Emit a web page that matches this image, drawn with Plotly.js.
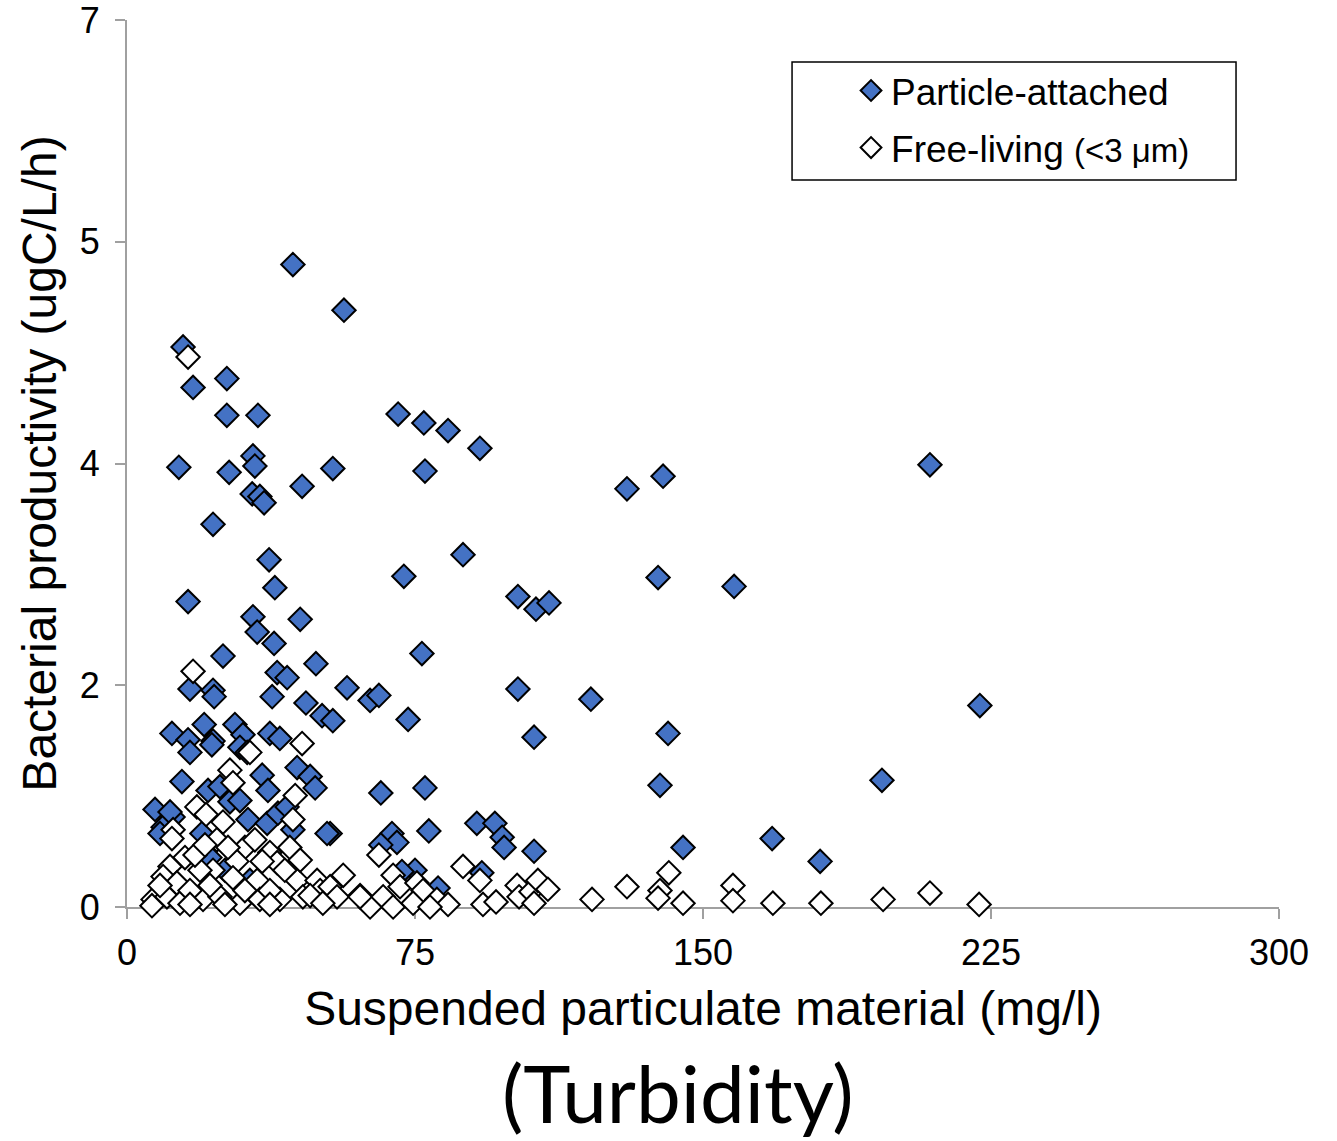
<!DOCTYPE html>
<html>
<head>
<meta charset="utf-8">
<script src="https://cdn.plot.ly/plotly-3.0.1.min.js"></script>
<style>html,body{margin:0;padding:0;background:#fff;}#chart{width:1337px;height:1141px;}</style>
</head>
<body>
<div id="chart"></div>
<script>
// Particle-attached bacterial productivity
var attachedX = [43.2,56.5,14.6,26.0,17.2,26.0,34.1,70.6,77.3,83.6,91.9,13.5,32.8,33.3,26.6,53.6,77.6,45.6,32.6,34.6,35.7,22.4,37.0,87.5,72.1,38.5,15.9,32.8,45.1,33.9,38.3,25.0,49.2,39.1,41.7,16.4,22.4,22.7,57.3,37.8,46.6,50.8,53.6,63.3,65.6,73.2,76.8,11.7,20.1,15.9,28.1,30.2,22.4,37.2,39.8,101.8,106.5,109.9,101.8,120.8,106.0,130.2,139.6,138.3,158.1,140.9,209.1,222.1,138.8,196.6,144.8,168.0,180.5,77.6,78.6,66.1,52.9,69.0,70.3,66.1,75.0,71.6,81.0,60.7,91.1,95.8,97.7,98.2,106.0,92.4,16.4,22.1,29.4,31.3,14.3,21.1,7.3,12.0,9.4,8.6,26.8,35.2,36.7,44.3,47.7,49.0,31.5,36.5,39.3,41.7,43.2,52.1,19.5,21.6,11.2,24.2,29.4,13.8,32.0,25.5];
var attachedY = [5.07,4.71,4.42,4.17,4.10,3.88,3.88,3.89,3.82,3.76,3.62,3.47,3.56,3.48,3.43,3.46,3.44,3.32,3.26,3.24,3.19,3.02,2.74,2.78,2.61,2.52,2.41,2.29,2.27,2.17,2.08,1.98,1.92,1.85,1.81,1.72,1.71,1.66,1.73,1.66,1.61,1.51,1.47,1.63,1.67,1.48,2.00,1.37,1.44,1.32,1.44,1.36,1.31,1.37,1.33,2.45,2.35,2.40,1.72,1.64,1.34,3.30,3.40,2.60,2.53,1.37,3.49,1.59,0.96,1.00,0.47,0.54,0.36,0.94,0.60,0.90,0.58,0.58,0.51,0.49,0.29,0.28,0.15,0.09,0.66,0.66,0.55,0.47,0.44,0.27,1.22,1.28,1.26,1.22,0.99,0.92,0.77,0.71,0.63,0.58,0.83,1.04,0.92,1.10,1.03,0.94,0.69,0.66,0.74,0.79,0.61,0.58,0.58,0.39,0.75,0.95,0.84,0.09,0.21,0.29];

// Free-living (<3 um) bacterial productivity
var freeX = [15.9,17.2,45.6,32.0,26.8,27.6,43.8,18.2,12.0,11.7,25.0,23.4,30.7,33.3,43.2,42.4,15.1,11.2,28.6,22.4,37.2,39.1,9.4,13.0,27.6,33.9,44.3,49.5,6.8,10.4,13.8,19.8,24.2,29.4,34.6,39.8,45.8,50.3,16.4,21.6,30.7,37.2,19.0,6.5,8.6,17.7,20.3,26.3,35.2,41.1,45.1,47.7,25.5,16.4,37.2,20.6,65.6,56.3,52.9,54.7,51.0,63.3,60.7,69.3,71.1,66.7,69.3,75.5,77.1,74.5,80.7,83.6,78.9,87.5,91.9,92.7,96.1,101.6,102.1,105.2,106.0,107.0,109.6,121.1,130.2,138.8,138.3,141.1,144.8,157.8,157.8,168.2,180.7,196.9,209.1,221.9];
var freeY = [4.34,1.86,1.29,1.22,1.08,0.98,0.88,0.79,0.61,0.54,0.67,0.53,0.47,0.53,0.69,0.47,0.39,0.32,0.36,0.29,0.43,0.35,0.24,0.19,0.23,0.21,0.21,0.21,0.06,0.08,0.03,0.06,0.08,0.03,0.06,0.06,0.08,0.13,0.13,0.17,0.13,0.13,0.29,0.01,0.17,0.41,0.49,0.47,0.36,0.29,0.37,0.09,0.02,0.02,0.02,0.73,0.41,0.25,0.16,0.08,0.03,0.00,0.08,0.25,0.16,0.08,0.00,0.19,0.13,0.03,0.06,0.02,0.00,0.32,0.21,0.02,0.04,0.17,0.08,0.12,0.03,0.21,0.14,0.06,0.16,0.13,0.07,0.27,0.03,0.17,0.05,0.03,0.03,0.06,0.11,0.02];

var xTicks = [0, 75, 150, 225, 300];
var yTickVals = [0, 1.75, 3.5, 5.25, 7];
var yTickText = ["0", "2", "4", "5", "7"];

var baseFont = "Liberation Sans, Arial, sans-serif";

var traces = [
  {
    type: "scatter", mode: "markers", name: "Particle-attached",
    x: attachedX, y: attachedY, cliponaxis: false, legendgroup: "a",
    marker: {symbol: "diamond", size: 18, color: "#4472C4", line: {color: "#000000", width: 2}},
    hoverinfo: "x+y"
  },
  {
    type: "scatter", mode: "markers",
    name: "Free-living <span style=\"font-size:33px\">(&lt;3 \u03bcm)</span>",
    x: freeX, y: freeY, cliponaxis: false, legendgroup: "b",
    marker: {symbol: "diamond", size: 18, color: "#FFFFFF", line: {color: "#000000", width: 2}},
    hoverinfo: "x+y"
  }
];

var layout = {
  width: 1337, height: 1141,
  margin: {l: 127, r: 58, t: 20, b: 234},
  paper_bgcolor: "#ffffff", plot_bgcolor: "#ffffff",
  font: {family: baseFont, color: "#000000", size: 36},
  showlegend: true,
  legend: {
    x: 0.6285, y: 0.955, xanchor: "left", yanchor: "top",
    bgcolor: "rgba(0,0,0,0)", borderwidth: 0,
    font: {family: baseFont, size: 37, color: "#000"},
    tracegroupgap: 6
  },
  xaxis: {
    range: [0, 300], tickvals: xTicks, ticktext: xTicks.map(String),
    showgrid: false, zeroline: false, showline: true,
    linecolor: "#A0A0A0", linewidth: 2, ticks: "outside", ticklen: 10, tickwidth: 2, tickcolor: "#A0A0A0",
    tickfont: {family: baseFont, size: 36, color: "#000"},
    ticklabelstandoff: 3, ticklabeloverflow: "allow",
    layer: "below traces", fixedrange: true,
    title: {text: "Suspended particulate material (mg/l)", font: {family: baseFont, size: 48, color: "#000"}, standoff: 19}
  },
  yaxis: {
    range: [0, 7], tickvals: yTickVals, ticktext: yTickText,
    showgrid: false, zeroline: false, showline: true,
    linecolor: "#A0A0A0", linewidth: 2, ticks: "outside", ticklen: 10, tickwidth: 2, tickcolor: "#A0A0A0",
    tickfont: {family: baseFont, size: 36, color: "#000"},
    ticklabelstandoff: 8, ticklabeloverflow: "allow",
    layer: "below traces", fixedrange: true,
    title: {text: "Bacterial productivity (ugC/L/h)", font: {family: baseFont, size: 48, color: "#000"}, standoff: 8}
  },
  shapes: [
    {type: "rect", xref: "paper", yref: "paper", x0: 0.5773, x1: 0.9627, y0: 0.8196, y1: 0.9526,
     line: {color: "#000000", width: 1.5}, fillcolor: "rgba(0,0,0,0)"}
  ],
  annotations: [
    {text: "(Turbidity)", xref: "paper", yref: "paper", x: 0.478, y: -0.2085,
     xanchor: "center", yanchor: "middle", showarrow: false,
     font: {family: "Lato, Carlito, Calibri, sans-serif", size: 80, color: "#000"}}
  ]
};

Plotly.newPlot("chart", traces, layout, {displayModeBar: false, staticPlot: true});
</script>
</body>
</html>
